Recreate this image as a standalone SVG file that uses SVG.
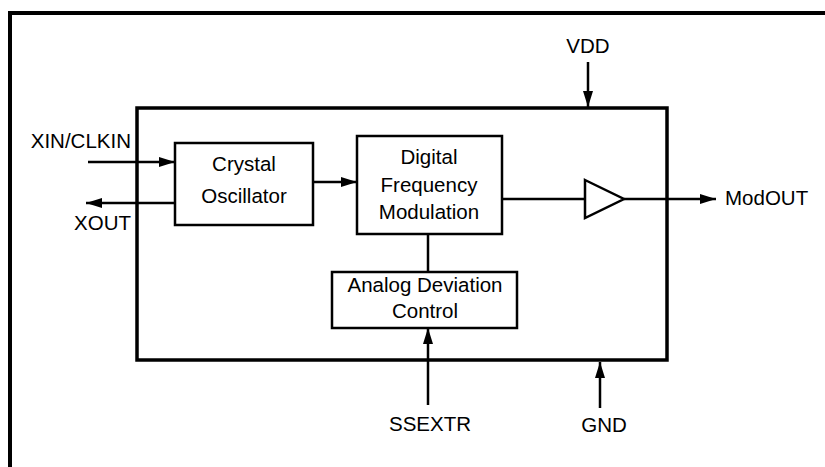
<svg xmlns="http://www.w3.org/2000/svg" width="825" height="467" viewBox="0 0 825 467">
<defs>
<style>
.t{font-family:"Liberation Sans",Arial,sans-serif;font-size:20.5px;fill:#000}
.m{text-anchor:middle}
.e{text-anchor:end}
.b{fill:#fff;stroke:#000;stroke-width:2.5}
.w{fill:none;stroke:#000;stroke-width:2.5}
</style>
<marker id="ah" viewBox="0 0 16 10" refX="16" refY="5" markerWidth="16" markerHeight="10" markerUnits="userSpaceOnUse" orient="auto">
<path d="M0,0 L16,5 L0,10 Z" fill="#000"/>
</marker>
</defs>
<rect width="825" height="467" fill="#fff"/>
<path d="M10,467 V13 H825" fill="none" stroke="#000" stroke-width="4"/>
<g id="chip">
<rect x="137" y="108" width="530" height="252" fill="none" stroke="#000" stroke-width="3.5"/>
</g>
<g id="connectors">
<line class="w" x1="588" y1="62" x2="588" y2="107" marker-end="url(#ah)"/>
<line class="w" x1="88" y1="162" x2="175" y2="162" marker-end="url(#ah)"/>
<line class="w" x1="175" y1="203" x2="86" y2="203" marker-end="url(#ah)"/>
<line class="w" x1="313" y1="182" x2="357" y2="182" marker-end="url(#ah)"/>
<line class="w" x1="502" y1="199" x2="585" y2="199"/>
<line class="w" x1="624" y1="199" x2="716" y2="199" marker-end="url(#ah)"/>
<line class="w" x1="428" y1="234" x2="428" y2="272"/>
<line class="w" x1="428" y1="405" x2="428" y2="328" marker-end="url(#ah)"/>
<line class="w" x1="600" y1="408" x2="600" y2="362" marker-end="url(#ah)"/>
</g>
<g id="xtal">
<rect class="b" x="175" y="143" width="138" height="82"/>
<text class="t m" x="244" y="171">Crystal</text>
<text class="t m" x="244" y="203">Oscillator</text>
</g>
<g id="dfm">
<rect class="b" x="357" y="136" width="145" height="98"/>
<text class="t m" x="429" y="164">Digital</text>
<text class="t m" x="429" y="192">Frequency</text>
<text class="t m" x="429" y="219">Modulation</text>
</g>
<g id="adc">
<rect class="b" x="332" y="272" width="185" height="56"/>
<text class="t m" x="425" y="292">Analog Deviation</text>
<text class="t m" x="425" y="318">Control</text>
</g>
<g id="buffer">
<path d="M585,180 L624,199 L585,218 Z" class="b"/>
</g>
<g id="labels">
<text class="t m" x="588" y="53">VDD</text>
<text class="t e" x="131" y="148">XIN/CLKIN</text>
<text class="t e" x="131" y="230">XOUT</text>
<text class="t" x="725" y="205">ModOUT</text>
<text class="t m" x="430" y="431">SSEXTR</text>
<text class="t m" x="604" y="432">GND</text>
</g>
</svg>
